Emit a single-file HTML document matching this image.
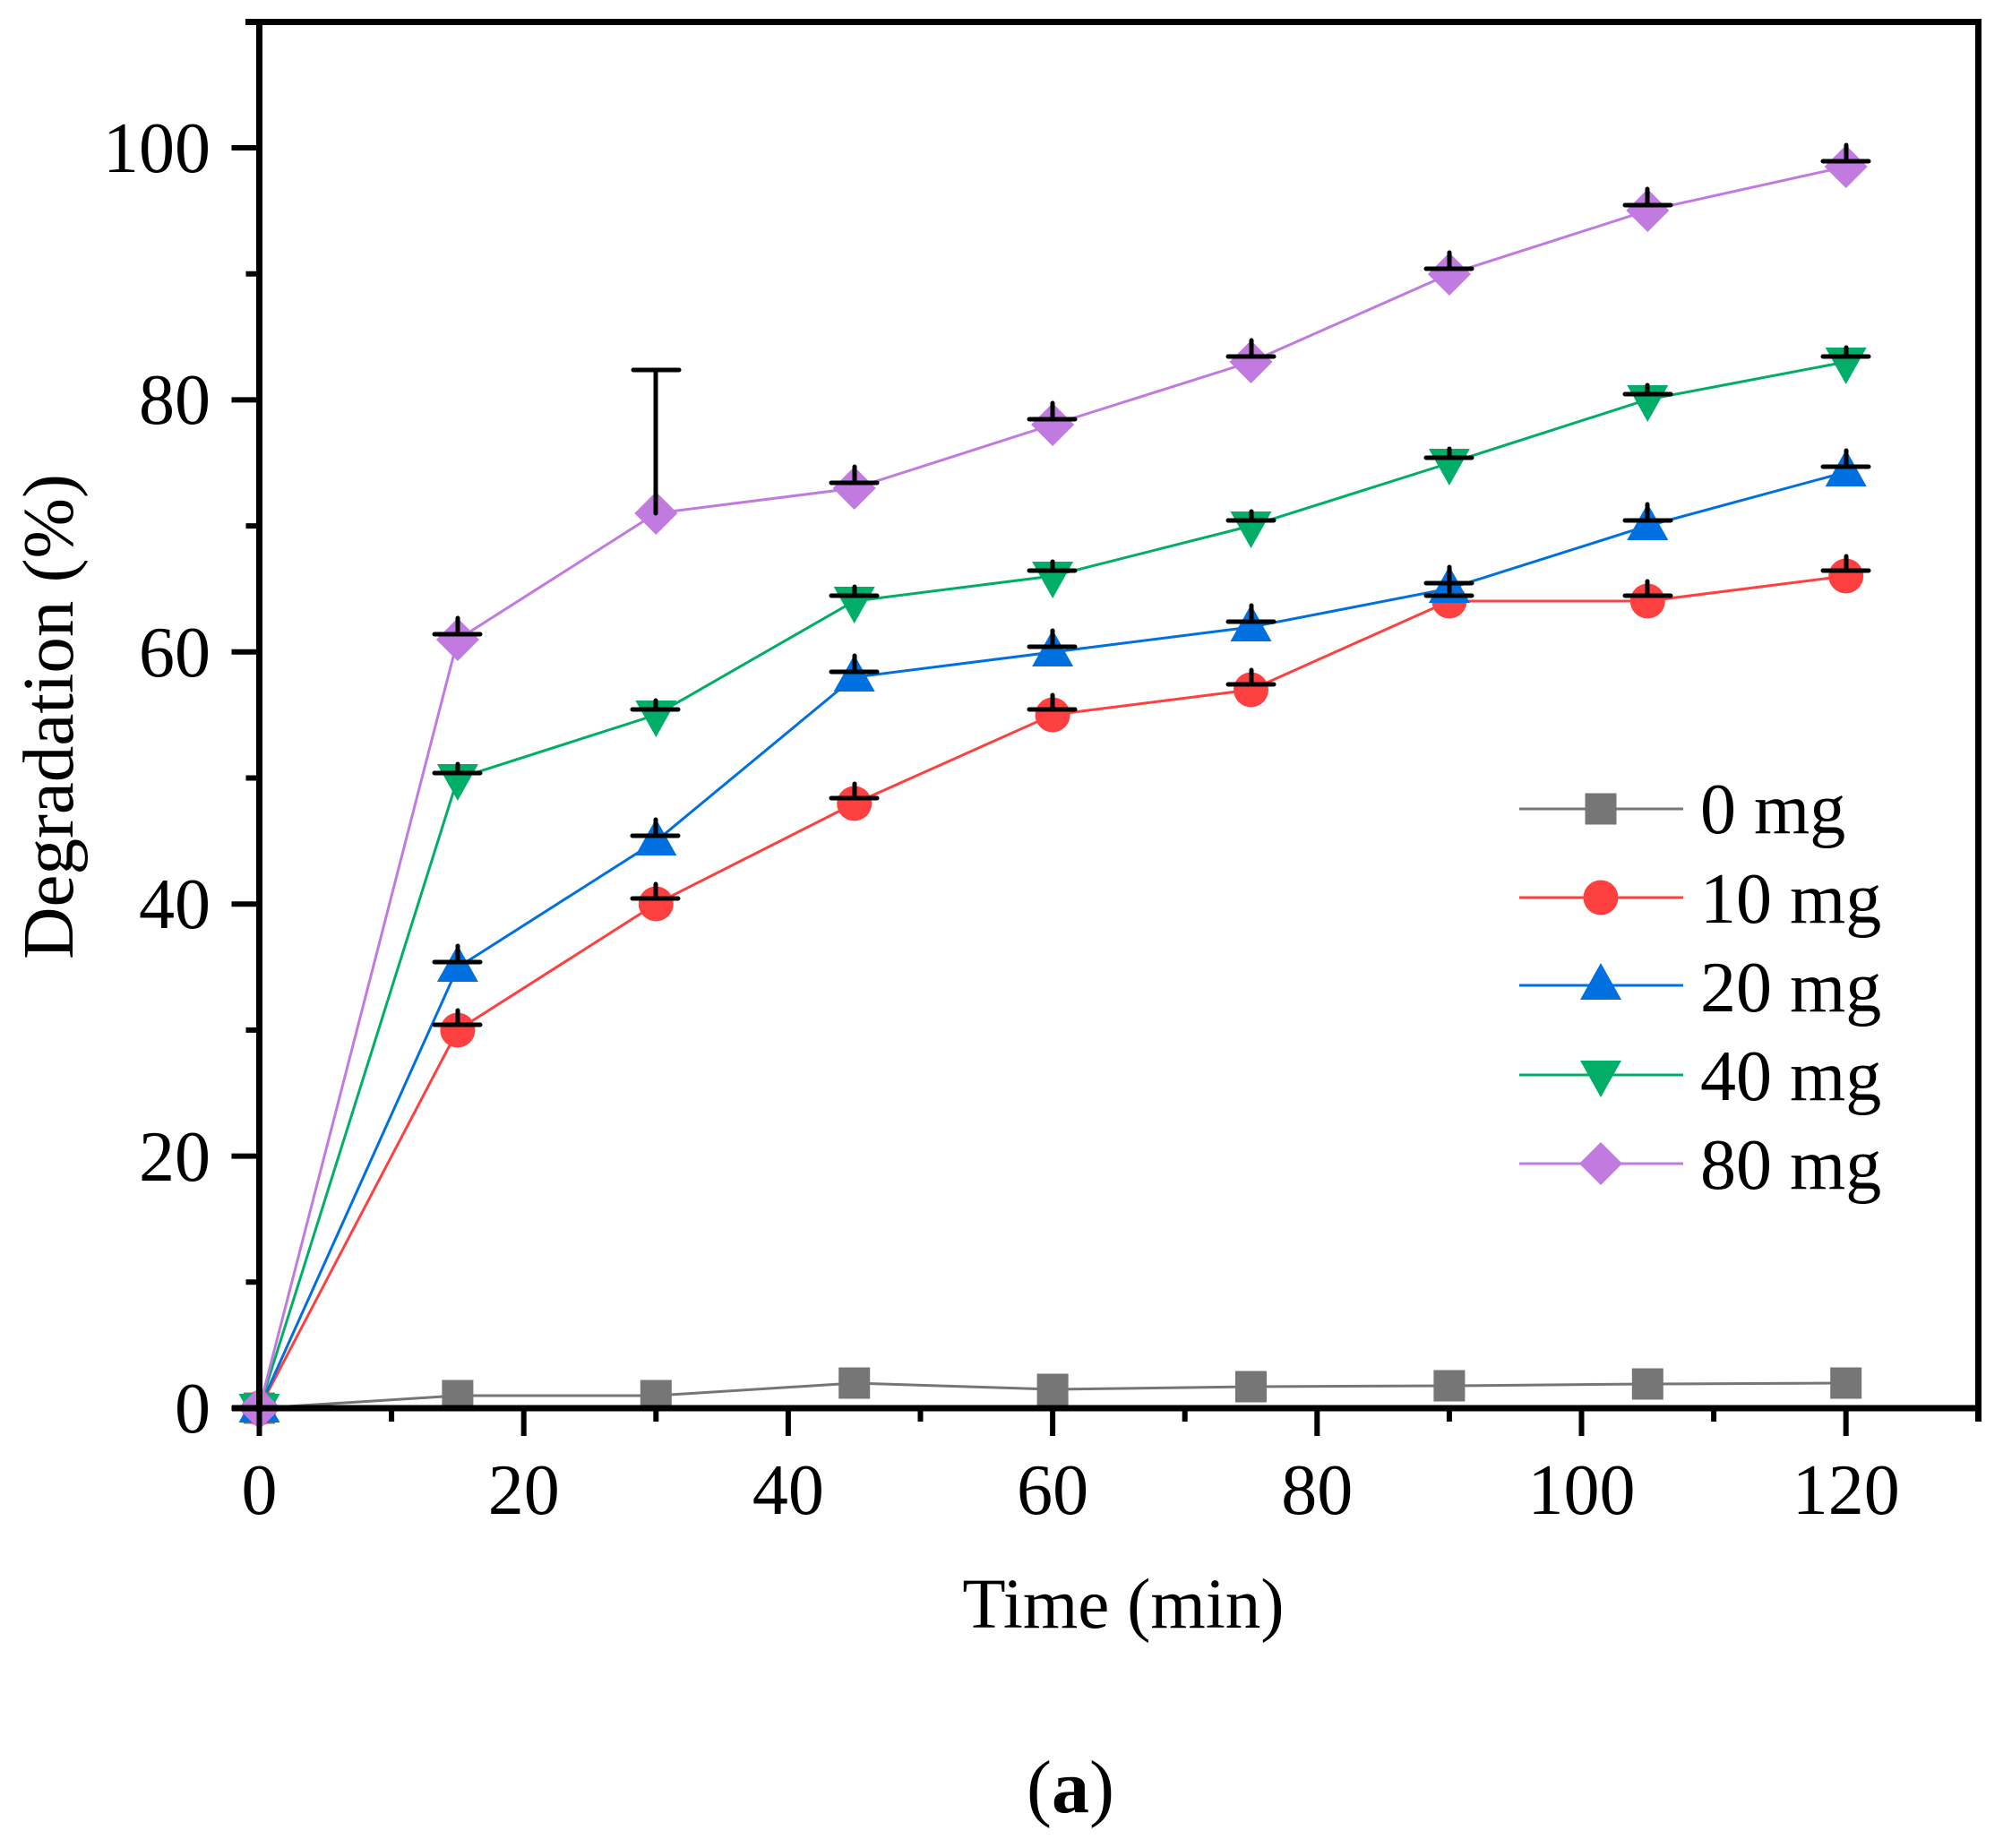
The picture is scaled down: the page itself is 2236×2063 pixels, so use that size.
<!DOCTYPE html>
<html><head><meta charset="utf-8"><style>html,body{margin:0;padding:0;background:#fff}svg{display:block}</style></head>
<body>
<svg width="2236" height="2063" viewBox="0 0 2236 2063" xmlns="http://www.w3.org/2000/svg" font-family="'Liberation Serif', serif">
<defs>
<rect id="sq" x="-17.5" y="-17.5" width="35" height="35" fill="#767676"/>
<circle id="ci" r="19.5" fill="#FF4040"/>
<path id="tu" d="M0,-25 L23,16 L-23,16 Z" fill="#0070E0"/>
<path id="td" d="M0,25 L23,-16 L-23,-16 Z" fill="#00AE68"/>
<path id="di" d="M0,-24 L24,0 L0,24 L-24,0 Z" fill="#C07AE0"/>
</defs>
<rect width="2236" height="2063" fill="#fff"/>
<g fill="none" stroke-width="3">
<polyline stroke="#767676" points="289.5,1572 510.9,1558 732.3,1558 953.7,1544 1175.1,1551 1396.5,1548 1617.9,1547 1839.3,1545 2060.7,1544"/>
<polyline stroke="#FF4040" points="289.5,1572 510.9,1150 732.3,1009 953.7,897 1175.1,798 1396.5,770 1617.9,671 1839.3,671 2060.7,643"/>
<polyline stroke="#0070E0" points="289.5,1572 510.9,1080 732.3,939 953.7,756 1175.1,728 1396.5,700 1617.9,657 1839.3,587 2060.7,527"/>
<polyline stroke="#00AE68" points="289.5,1572 510.9,869 732.3,798 953.7,671 1175.1,643 1396.5,587 1617.9,517 1839.3,446 2060.7,404"/>
<polyline stroke="#C07AE0" points="289.5,1572 510.9,714 732.3,573 953.7,545 1175.1,474 1396.5,404 1617.9,306 1839.3,235 2060.7,186"/>
</g>
<g>
<use href="#sq" x="289.5" y="1572"/><use href="#sq" x="510.9" y="1558"/><use href="#sq" x="732.3" y="1558"/><use href="#sq" x="953.7" y="1544"/><use href="#sq" x="1175.1" y="1551"/><use href="#sq" x="1396.5" y="1548"/><use href="#sq" x="1617.9" y="1547"/><use href="#sq" x="1839.3" y="1545"/><use href="#sq" x="2060.7" y="1544"/>
<use href="#ci" x="289.5" y="1572"/><use href="#ci" x="510.9" y="1150"/><use href="#ci" x="732.3" y="1009"/><use href="#ci" x="953.7" y="897"/><use href="#ci" x="1175.1" y="798"/><use href="#ci" x="1396.5" y="770"/><use href="#ci" x="1617.9" y="671"/><use href="#ci" x="1839.3" y="671"/><use href="#ci" x="2060.7" y="643"/>
<use href="#tu" x="289.5" y="1572"/><use href="#tu" x="510.9" y="1080"/><use href="#tu" x="732.3" y="939"/><use href="#tu" x="953.7" y="756"/><use href="#tu" x="1175.1" y="728"/><use href="#tu" x="1396.5" y="700"/><use href="#tu" x="1617.9" y="657"/><use href="#tu" x="1839.3" y="587"/><use href="#tu" x="2060.7" y="527"/>
<use href="#td" x="289.5" y="1572"/><use href="#td" x="510.9" y="869"/><use href="#td" x="732.3" y="798"/><use href="#td" x="953.7" y="671"/><use href="#td" x="1175.1" y="643"/><use href="#td" x="1396.5" y="587"/><use href="#td" x="1617.9" y="517"/><use href="#td" x="1839.3" y="446"/><use href="#td" x="2060.7" y="404"/>
<use href="#di" x="289.5" y="1572"/><use href="#di" x="510.9" y="714"/><use href="#di" x="732.3" y="573"/><use href="#di" x="953.7" y="545"/><use href="#di" x="1175.1" y="474"/><use href="#di" x="1396.5" y="404"/><use href="#di" x="1617.9" y="306"/><use href="#di" x="1839.3" y="235"/><use href="#di" x="2060.7" y="186"/>
</g>
<g stroke="#000" stroke-width="5" stroke-linecap="round" fill="none">
<path d="M485,1144h51M511,1144v-16 M706,1003h51M732,1003v-16 M928,891h51M954,891v-16 M1149,792h51M1175,792v-16 M1371,764h51M1397,764v-16 M1592,665h51M1618,665v-16 M1814,665h51M1839,665v-16 M2035,637h51M2061,637v-16"/>
<path d="M485,1074h51M511,1074v-18 M706,933h51M732,933v-18 M928,750h51M954,750v-18 M1149,722h51M1175,722v-18 M1371,694h51M1397,694v-18 M1592,651h51M1618,651v-18 M1814,581h51M1839,581v-18 M2035,521h51M2061,521v-18"/>
<path d="M485,863h51M511,863v-10 M706,792h51M732,792v-10 M928,665h51M954,665v-10 M1149,637h51M1175,637v-10 M1371,581h51M1397,581v-10 M1592,511h51M1618,511v-10 M1814,440h51M1839,440v-10 M2035,398h51M2061,398v-10"/>
<path d="M485,708h51M511,708v-18 M707,413h51M732,413v160 M928,539h51M954,539v-18 M1149,468h51M1175,468v-18 M1371,398h51M1397,398v-18 M1592,300h51M1618,300v-18 M1814,229h51M1839,229v-18 M2035,180h51M2061,180v-18"/>
</g>
<g stroke="#000" fill="none">
<path d="M289.5,22 V1576" stroke-width="7"/>
<path d="M274,24.5 H2208.5 V1587" stroke-width="7"/>
<path d="M259,1572 H2212" stroke-width="7"/>
<g stroke-width="6">
<path d="M289.5,1572v31 M584.7,1572v31 M879.9,1572v31 M1175.1,1572v31 M1470.3,1572v31 M1765.5,1572v31 M2060.7,1572v31"/>
<path d="M437.1,1572v15 M732.3,1572v15 M1027.5,1572v15 M1322.7,1572v15 M1617.9,1572v15 M1913.1,1572v15"/>
<path d="M289.5,1572h-31 M289.5,1290.6h-31 M289.5,1009.2h-31 M289.5,727.8h-31 M289.5,446.4h-31 M289.5,165h-31"/>
<path d="M289.5,1431.3h-15 M289.5,1149.9h-15 M289.5,868.5h-15 M289.5,587.1h-15 M289.5,305.7h-15"/>
</g>
</g>
<g font-size="80" fill="#000">
<g text-anchor="end">
<text x="235" y="1599">0</text>
<text x="235" y="1318">20</text>
<text x="235" y="1036">40</text>
<text x="235" y="755">60</text>
<text x="235" y="473">80</text>
<text x="235" y="192">100</text>
</g>
<g text-anchor="middle">
<text x="289.5" y="1690">0</text>
<text x="584.7" y="1690">20</text>
<text x="879.9" y="1690">40</text>
<text x="1175.1" y="1690">60</text>
<text x="1470.3" y="1690">80</text>
<text x="1765.5" y="1690">100</text>
<text x="2060.7" y="1690">120</text>
</g>
<text x="1254" y="1817" text-anchor="middle" font-size="79">Time (min)</text>
<text transform="translate(81,800) rotate(-90)" text-anchor="middle" font-size="81">Degradation (%)</text>
<text x="1195" y="2023" text-anchor="middle" font-size="84">(<tspan font-weight="bold">a</tspan>)</text>
</g>
<g stroke-width="3">
<line x1="1696" y1="903" x2="1879" y2="903" stroke="#767676"/>
<line x1="1696" y1="1002" x2="1879" y2="1002" stroke="#FF4040"/>
<line x1="1696" y1="1100" x2="1879" y2="1100" stroke="#0070E0"/>
<line x1="1696" y1="1200" x2="1879" y2="1200" stroke="#00AE68"/>
<line x1="1696" y1="1299" x2="1879" y2="1299" stroke="#C07AE0"/>
</g>
<use href="#sq" x="1787" y="903"/>
<use href="#ci" x="1787" y="1002"/>
<use href="#tu" x="1787" y="1100"/>
<use href="#td" x="1787" y="1200"/>
<use href="#di" x="1787" y="1299"/>
<g font-size="80" fill="#000">
<text x="1898" y="930">0 mg</text>
<text x="1898" y="1030">10 mg</text>
<text x="1898" y="1129">20 mg</text>
<text x="1898" y="1228">40 mg</text>
<text x="1898" y="1327">80 mg</text>
</g>
</svg>
</body></html>
